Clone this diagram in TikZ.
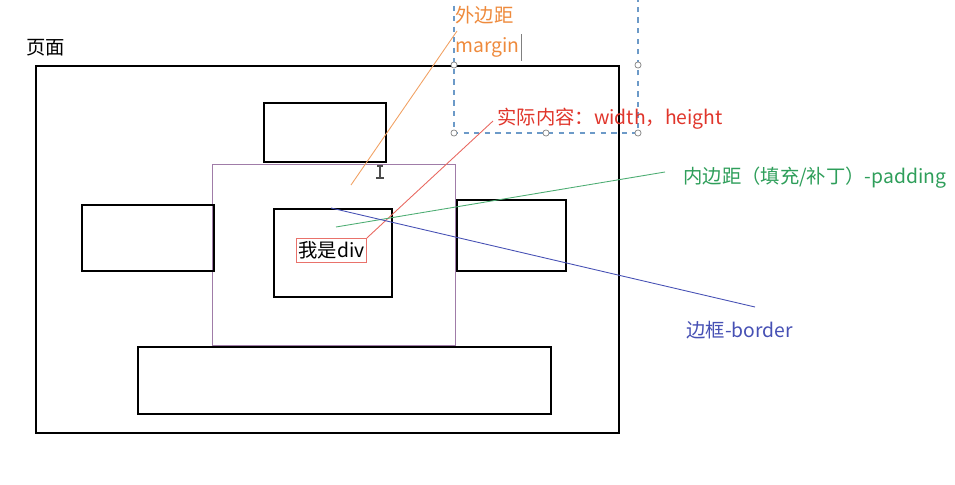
\documentclass[tikz,border=0pt]{standalone}
\usepackage{fontspec}
\setmainfont{Noto Sans CJK SC}
\usetikzlibrary{positioning}
\definecolor{marginc}{HTML}{EE8A3C}
\definecolor{contentc}{HTML}{E0352B}
\definecolor{paddingc}{HTML}{2E9E5A}
\definecolor{borderc}{HTML}{4650B4}
\definecolor{boxc}{HTML}{A07CA8}
\definecolor{selc}{HTML}{6C9AC8}
\begin{document}
\begin{tikzpicture}[
x=0.2mm, y=-0.2mm,
font=\fontsize{11}{13}\selectfont,
box/.style={draw, line width=1.2pt, anchor=north west, inner sep=0pt},
label/.style={anchor=west, inner sep=0pt},
callout/.style={line width=0.5pt},
handle/.style={draw=gray, fill=white, circle, inner sep=0pt, minimum size=3.5pt, line width=0.4pt}
]
\useasboundingbox (0,0) rectangle (955,484);
% page and boxes
\node[box, minimum width=116.6mm, minimum height=73.4mm] (page) at (35,65) {};
\node[anchor=south west, inner sep=0pt] (pagelbl) at (26,56) {页面};
\node[box, minimum width=24.4mm, minimum height=11.8mm] (top) at (263,102) {};
\node[box, draw=boxc, line width=0.5pt, minimum width=48.6mm, minimum height=36.2mm] (pad) at (212,164) {};
\node[box, minimum width=26.4mm, minimum height=13.2mm] (left) at (81,204) {};
\node[box, minimum width=21.8mm, minimum height=14.2mm] (right) at (456,199) {};
\node[box, minimum width=23.6mm, minimum height=17.6mm] (div) at (273,208) {};
\node[box, draw=contentc!70, line width=0.5pt, minimum width=14mm, minimum height=4.8mm] (content) at (296,238) {};
\node (divtxt) at (content.center) {我是div};
\node[box, minimum width=82.6mm, minimum height=13.4mm] (bottom) at (137,346) {};
% selection frame
\draw[selc, dashed, line width=0.6pt] (454,-5) -- (454,133) -- (638,133) -- (638,-5);
\foreach \p in {(454,65),(638,65),(454,133),(546,133),(638,133)}
  \node[handle] at \p {};
% labels
\node[label, text=marginc] (mzh) at (455,15) {外边距};
\node[label, text=marginc] (men) at (455,47) {margin};
\draw[gray, line width=0.6pt] (men.east) ++(2,-13) -- ++(0,27);
\node[label, text=contentc] (ctxt) at (497,119) {实际内容：width，height};
\node[label, text=paddingc] (ptxt) at (683,178) {内边距（填充/补丁）-padding};
\node[label, text=borderc] (btxt) at (686,330) {边框-border};
% callouts
\coordinate (mstart) at (351,185);
\coordinate (mend) at (457,31);
\coordinate (pstart) at (336,227);
\coordinate (pend) at (665,172);
\coordinate (bstart) at (331,208);
\coordinate (bend) at (755,307);
\coordinate (cend) at (493,121);
\draw[callout, marginc!80] (mstart) -- (mend);
\draw[callout, contentc!75] (content.north east) -- (cend);
\draw[callout, paddingc!85] (pstart) -- (pend);
\draw[callout, borderc] (bstart) -- (bend);
% mouse cursor
\draw[gray!60!black, line width=0.6pt] (380,166) -- (380,178) (377,166) -- (383,166) (376,178) -- (384,178);
\end{tikzpicture}
\end{document}
